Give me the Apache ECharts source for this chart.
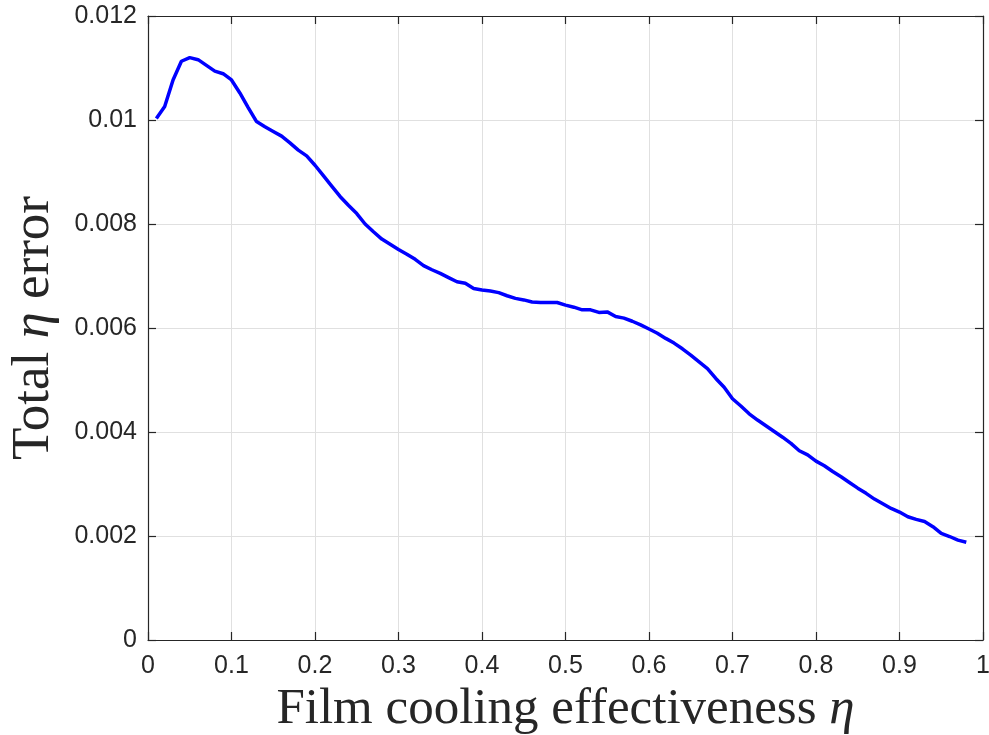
<!DOCTYPE html>
<html>
<head>
<meta charset="utf-8">
<script src="https://cdn.jsdelivr.net/npm/echarts@6/dist/echarts.min.js"></script>
<style>html,body{margin:0;padding:0;background:#fff;}#chart{width:989px;height:735px;}</style>
</head>
<body>
<div id="chart"></div>
<script>
const etaValues = [0.01,0.02,0.03,0.04,0.05,0.06,0.07,0.08,0.09,0.10,
  0.11,0.12,0.13,0.14,0.15,0.16,0.17,0.18,0.19,0.20,
  0.21,0.22,0.23,0.24,0.25,0.26,0.27,0.28,0.29,0.30,
  0.31,0.32,0.33,0.34,0.35,0.36,0.37,0.38,0.39,0.40,
  0.41,0.42,0.43,0.44,0.45,0.46,0.47,0.48,0.49,0.50,
  0.51,0.52,0.53,0.54,0.55,0.56,0.57,0.58,0.59,0.60,
  0.61,0.62,0.63,0.64,0.65,0.66,0.67,0.68,0.69,0.70,
  0.71,0.72,0.73,0.74,0.75,0.76,0.77,0.78,0.79,0.80,
  0.81,0.82,0.83,0.84,0.85,0.86,0.87,0.88,0.89,0.90,
  0.91,0.92,0.93,0.94,0.95,0.96,0.97,0.98];
const totalError = [0.01003,0.01026,0.01077,0.01113,0.01120,0.01116,0.01105,0.01094,0.01089,0.01077,
  0.01052,0.01024,0.00997,0.00987,0.00978,0.00969,0.00956,0.00942,0.00931,0.00913,
  0.00893,0.00873,0.00853,0.00836,0.00820,0.00800,0.00785,0.00771,0.00761,0.00751,
  0.00742,0.00732,0.00720,0.00712,0.00705,0.00697,0.00689,0.00686,0.00676,0.00673,
  0.00671,0.00668,0.00662,0.00657,0.00654,0.00650,0.00649,0.00649,0.00649,0.00644,
  0.00640,0.00635,0.00635,0.00630,0.00631,0.00622,0.00619,0.00613,0.00606,0.00598,
  0.00590,0.00580,0.00571,0.00560,0.00548,0.00535,0.00522,0.00503,0.00486,0.00464,
  0.00450,0.00435,0.00423,0.00412,0.00401,0.00390,0.00378,0.00364,0.00356,0.00344,
  0.00335,0.00324,0.00314,0.00303,0.00292,0.00282,0.00271,0.00262,0.00253,0.00246,
  0.00237,0.00232,0.00228,0.00218,0.00205,0.00199,0.00192,0.00188];
const xTickLabels = ['0','0.1','0.2','0.3','0.4','0.5','0.6','0.7','0.8','0.9','1'];
const yTickLabels = ['0','0.002','0.004','0.006','0.008','0.01','0.012'];
const xTitle = 'Film cooling effectiveness ';
const yTitleA = 'Total ';
const yTitleB = ' error';

const axisColor = '#262626';
const gridColor = '#e0e0e0';
const labelFont = { color: axisColor, fontSize: 25, fontFamily: 'Liberation Sans, Arial, sans-serif' };
const titleFont = 'Liberation Serif, DejaVu Serif, serif';

const chart = echarts.init(document.getElementById('chart'), null, { renderer: 'canvas' });
const baseAxis = {
  axisLine: { show: true, onZero: false, lineStyle: { color: axisColor, width: 1.2 } },
  axisTick: { show: true, inside: true, length: 8, lineStyle: { color: axisColor, width: 1.2 } },
};
chart.setOption({
  animation: false,
  backgroundColor: '#fff',
  grid: { left: 148, right: 6, top: 16, bottom: 95, containLabel: false, outerBoundsMode: 'none' },
  xAxis: [
    Object.assign({}, baseAxis, {
      type: 'value', position: 'bottom', min: 0, max: 1, interval: 0.1,
      axisLabel: Object.assign({}, labelFont, { margin: 14,
        formatter: (v) => xTickLabels[Math.round(v * 10)] }),
      splitLine: { show: true, lineStyle: { color: gridColor, width: 1 } },
      name: '{a|' + xTitle + '}{b|η}', nameLocation: 'middle', nameGap: 40,
      nameTextStyle: { rich: {
        a: { fontFamily: titleFont, fontSize: 51, color: axisColor },
        b: { fontFamily: titleFont, fontSize: 51, fontStyle: 'italic', color: axisColor }
      } }
    }),
    Object.assign({}, baseAxis, {
      type: 'value', position: 'top', min: 0, max: 1, interval: 0.1,
      axisLabel: { show: false }, splitLine: { show: false }
    })
  ],
  yAxis: [
    Object.assign({}, baseAxis, {
      type: 'value', position: 'left', min: 0, max: 0.012, interval: 0.002,
      axisLabel: Object.assign({}, labelFont, { margin: 11,
        formatter: (v) => yTickLabels[Math.round(v / 0.002)] }),
      splitLine: { show: true, lineStyle: { color: gridColor, width: 1 } },
      name: '{a|' + yTitleA + '}{b|η}{a|' + yTitleB + '}', nameLocation: 'middle', nameGap: 87,
      nameRotate: 90,
      nameTextStyle: { rich: {
        a: { fontFamily: titleFont, fontSize: 53, color: axisColor },
        b: { fontFamily: titleFont, fontSize: 53, fontStyle: 'italic', color: axisColor }
      } }
    }),
    Object.assign({}, baseAxis, {
      type: 'value', position: 'right', min: 0, max: 0.012, interval: 0.002,
      axisLabel: { show: false }, splitLine: { show: false }
    })
  ],
  series: [{
    type: 'line',
    data: etaValues.map((x, i) => [x, totalError[i]]),
    showSymbol: false,
    smooth: false,
    lineStyle: { color: '#0000ff', width: 3.5 },
    itemStyle: { color: '#0000ff' }
  }]
});
</script>
</body>
</html>
